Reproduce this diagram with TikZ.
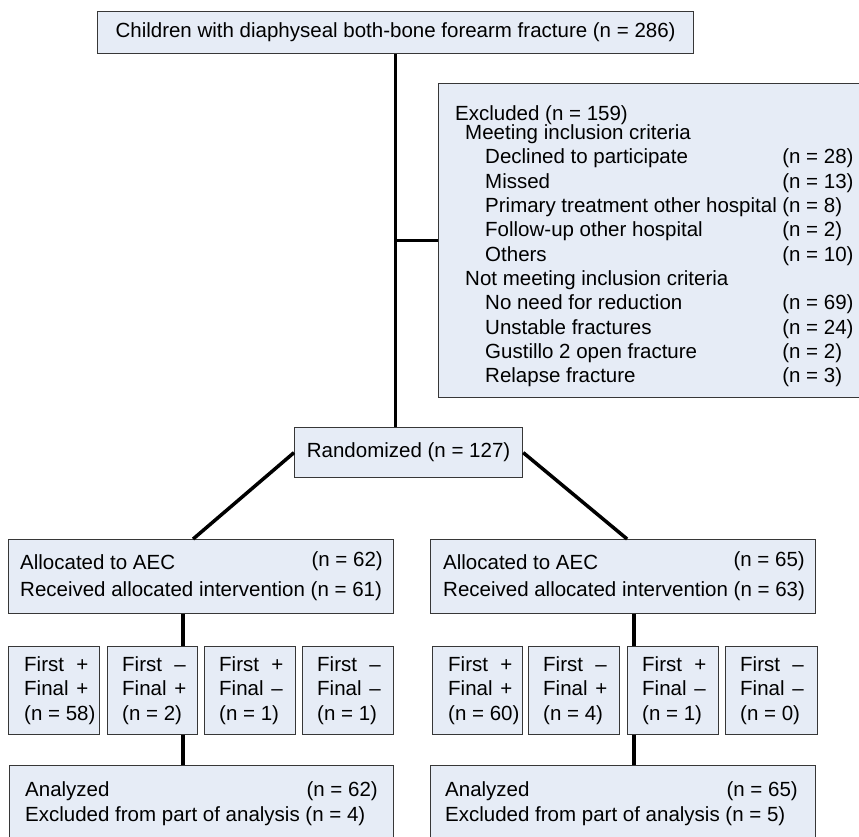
\documentclass[tikz,border=0pt]{standalone}
\usepackage{fontspec}
\setmainfont{Liberation Sans}
\definecolor{boxfill}{RGB}{230,236,246}
\definecolor{boxline}{RGB}{55,55,55}
\newcommand{\sgn}[2]{\makebox[2.55em][l]{#1}#2}
\newcommand{\fsz}{\fontsize{20.5}{24.5}\selectfont}

\begin{document}
\begin{tikzpicture}[x=1pt,y=-1pt,
    box/.style={draw=boxline,fill=boxfill,line width=1.2pt,inner sep=0pt,anchor=north west,font=\fsz},
    fbox/.style={box,minimum height=88},
    conn/.style={line width=3.5pt},
    txt/.style={anchor=base west,inner sep=0pt,font=\fsz},
    num/.style={anchor=base east,inner sep=0pt,font=\fsz},
    ftxt/.style={anchor=west,inner sep=0pt,align=left,font=\fsz}]
    \clip (0,0) rectangle (859,836);
    % boxes
    \node[box,minimum width=596,minimum height=42] (top) at (97,11) {Children with diaphyseal both-bone forearm fracture (n = 286)};
    \node[box,minimum width=440,minimum height=314] (excl) at (438,83) {};
    \node[box,minimum width=228,minimum height=50] (rand) at (294,427) {Randomized (n = 127)};
    \node[box,minimum width=385,minimum height=74] (allocl) at (8,539) {};
    \node[box,minimum width=385,minimum height=74] (allocr) at (430,539) {};
    \node[fbox,minimum width=91] (fl1) at (8,646) {};
    \node[fbox,minimum width=90] (fl2) at (107,646) {};
    \node[fbox,minimum width=91] (fl3) at (204,646) {};
    \node[fbox,minimum width=91] (fl4) at (302,646) {};
    \node[fbox,minimum width=90] (fr1) at (432,646) {};
    \node[fbox,minimum width=91] (fr2) at (528,646) {};
    \node[fbox,minimum width=91] (fr3) at (627,646) {};
    \node[fbox,minimum width=92] (fr4) at (725,646) {};
    \node[box,minimum width=384,minimum height=90] (anal) at (9,765) {};
    \node[box,minimum width=385,minimum height=90] (anar) at (430,765) {};
    % first / final counts
    \node[ftxt] (tl1) at ([xshift=16pt]fl1.west) {\sgn{First}{+}\\\sgn{Final}{+}\\(n = 58)};
    \node[ftxt] (tl2) at ([xshift=15pt]fl2.west) {\sgn{First}{–}\\\sgn{Final}{+}\\(n = 2)};
    \node[ftxt] (tl3) at ([xshift=15pt]fl3.west) {\sgn{First}{+}\\\sgn{Final}{–}\\(n = 1)};
    \node[ftxt] (tl4) at ([xshift=15pt]fl4.west) {\sgn{First}{–}\\\sgn{Final}{–}\\(n = 1)};
    \node[ftxt] (tr1) at ([xshift=16pt]fr1.west) {\sgn{First}{+}\\\sgn{Final}{+}\\(n = 60)};
    \node[ftxt] (tr2) at ([xshift=15pt]fr2.west) {\sgn{First}{–}\\\sgn{Final}{+}\\(n = 4)};
    \node[ftxt] (tr3) at ([xshift=15pt]fr3.west) {\sgn{First}{+}\\\sgn{Final}{–}\\(n = 1)};
    \node[ftxt] (tr4) at ([xshift=15pt]fr4.west) {\sgn{First}{–}\\\sgn{Final}{–}\\(n = 0)};
    % excluded list
    \node[txt] (ex0) at (455,120) {Excluded (n = 159)};
    \node[txt] (ex1) at (465,139) {Meeting inclusion criteria};
    \node[txt] (ex2) at (485,163.5) {Declined to participate};
    \node[txt] (ex3) at (485,188) {Missed};
    \node[txt] (ex4) at (485,212) {Primary treatment other hospital};
    \node[txt] (ex5) at (485,236.5) {Follow-up other hospital};
    \node[txt] (ex6) at (485,261) {Others};
    \node[txt] (ex7) at (465,285) {Not meeting inclusion criteria};
    \node[txt] (ex8) at (485,309.5) {No need for reduction};
    \node[txt] (ex9) at (485,334) {Unstable fractures};
    \node[txt] (ex10) at (485,358) {Gustillo 2 open fracture};
    \node[txt] (ex11) at (485,382.5) {Relapse fracture};
    \node[txt] (nx4) at ([xshift=5pt]ex4.base east) {(n = 8)};
    \node[txt] (nx2) at (nx4.base west |- ex2.base) {(n = 28)};
    \node[txt] (nx3) at (nx4.base west |- ex3.base) {(n = 13)};
    \node[txt] (nx5) at (nx4.base west |- ex5.base) {(n = 2)};
    \node[txt] (nx6) at (nx4.base west |- ex6.base) {(n = 10)};
    \node[txt] (nx8) at (nx4.base west |- ex8.base) {(n = 69)};
    \node[txt] (nx9) at (nx4.base west |- ex9.base) {(n = 24)};
    \node[txt] (nx10) at (nx4.base west |- ex10.base) {(n = 2)};
    \node[txt] (nx11) at (nx4.base west |- ex11.base) {(n = 3)};
    % allocation
    \node[txt] (al1) at (20,569) {Allocated to AEC};
    \node[num] (aln1) at (383,566) {(n = 62)};
    \node[txt] (al2) at (20,596) {Received allocated intervention (n = 61)};
    \node[txt] (ar1) at (443,569) {Allocated to AEC};
    \node[num] (arn1) at (805,566) {(n = 65)};
    \node[txt] (ar2) at (443,596) {Received allocated intervention (n = 63)};
    % analysis
    \node[txt] (an1) at (25,796) {Analyzed};
    \node[num] (ann1) at (378,796) {(n = 62)};
    \node[txt] (an2) at (25,821) {Excluded from part of analysis (n = 4)};
    \node[txt] (ar3) at (445,796) {Analyzed};
    \node[num] (arn3) at (798,796) {(n = 65)};
    \node[txt] (ar4) at (445,821) {Excluded from part of analysis (n = 5)};
    % connectors
    \coordinate (jl) at (183,0);
    \coordinate (jr) at (634,0);
    \draw[conn] (top.south) -- (top.south |- rand.north);
    \draw[conn] (top.south |- excl.west) -- (excl.west);
    \draw[conn] (rand.west) -- ([xshift=-8pt]allocl.north);
    \draw[conn] (rand.east) -- ([xshift=4pt]allocr.north);
    \draw[conn] (allocl.south -| jl) -- (fl2.north -| jl);
    \draw[conn] (fl2.south -| jl) -- (anal.north -| jl);
    \draw[conn] (allocr.south -| jr) -- (fr3.north -| jr);
    \draw[conn] (fr3.south -| jr) -- (anar.north -| jr);
\end{tikzpicture}
\end{document}
